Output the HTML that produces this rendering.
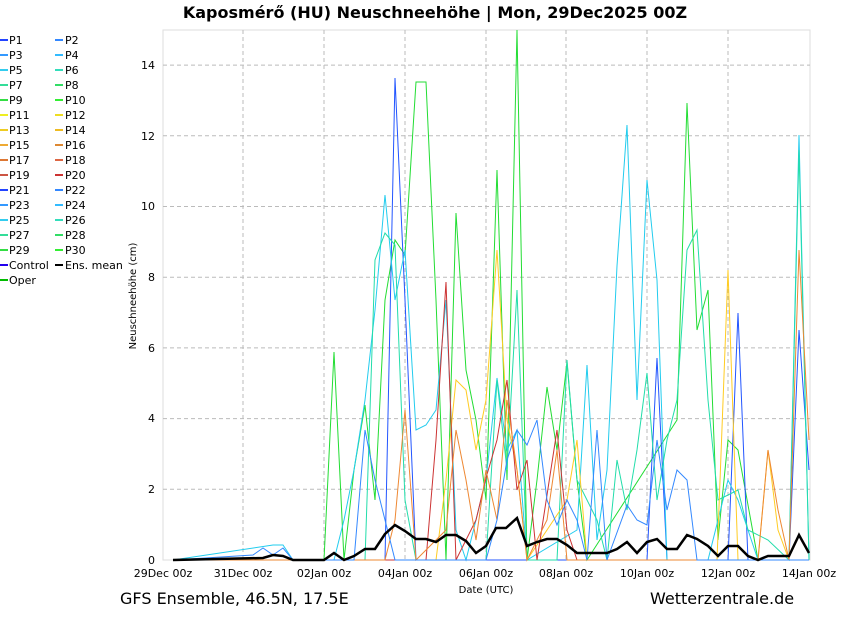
<!DOCTYPE html><html><head><style>body{margin:0;background:#fff;width:850px;height:620px;overflow:hidden}svg{display:block;font-family:"DejaVu Sans","Liberation Sans",sans-serif}</style></head><body>
<svg width="850" height="620" xmlns="http://www.w3.org/2000/svg">
<text x="435" y="18" font-size="16" font-weight="bold" text-anchor="middle">Kaposmérő  (HU)  Neuschneehöhe | Mon, 29Dec2025 00Z</text>
<rect x="163" y="30" width="647" height="530" fill="#fff" stroke="#ddd"/>
<g stroke="#bbb" stroke-dasharray="4,3" stroke-width="1">
<line x1="163" x2="810" y1="489.3" y2="489.3"/><line x1="163" x2="810" y1="418.6" y2="418.6"/><line x1="163" x2="810" y1="347.9" y2="347.9"/><line x1="163" x2="810" y1="277.2" y2="277.2"/><line x1="163" x2="810" y1="206.5" y2="206.5"/><line x1="163" x2="810" y1="135.8" y2="135.8"/><line x1="163" x2="810" y1="65.1" y2="65.1"/>
<line x1="243" x2="243" y1="30" y2="560"/><line x1="324" x2="324" y1="30" y2="560"/><line x1="405" x2="405" y1="30" y2="560"/><line x1="486" x2="486" y1="30" y2="560"/><line x1="566" x2="566" y1="30" y2="560"/><line x1="647" x2="647" y1="30" y2="560"/><line x1="728" x2="728" y1="30" y2="560"/>
</g>
<g font-size="11" text-anchor="end"><text x="155" y="564">0</text><text x="155" y="493">2</text><text x="155" y="422">4</text><text x="155" y="352">6</text><text x="155" y="281">8</text><text x="155" y="210">10</text><text x="155" y="140">12</text><text x="155" y="69">14</text></g>
<g font-size="11" text-anchor="middle"><text x="163" y="577">29Dec 00z</text><text x="243" y="577">31Dec 00z</text><text x="324" y="577">02Jan 00z</text><text x="405" y="577">04Jan 00z</text><text x="486" y="577">06Jan 00z</text><text x="566" y="577">08Jan 00z</text><text x="647" y="577">10Jan 00z</text><text x="728" y="577">12Jan 00z</text><text x="809" y="577">14Jan 00z</text>
<text x="486" y="593" font-size="10">Date (UTC)</text></g>
<text transform="translate(136,296) rotate(-90)" font-size="10" text-anchor="middle">Neuschneehöhe (cm)</text>
<text x="120" y="604" font-size="16">GFS Ensemble, 46.5N, 17.5E</text>
<text x="650" y="604" font-size="16">Wetterzentrale.de</text>
<g fill="none" stroke-width="1">
<polyline stroke="#22dd33" points="173,560 324,560 334,352 344,560 354,470 365,405 375,500 385,300 395,240 405,255 416,82 426,82 436,300 446,560 456,213 466,370 476,420 486,500 497,170 507,480 517,30 527,560 537,480 547,387 557,450 567,362 577,480 587,560 677,420 687,103 697,330 708,290 718,540 728,440 738,450 758,560 809,560"/>
<polyline stroke="#2255ff" points="173,560 385,560 395,78 405,300 416,560 647,560 657,358 667,560 728,560 738,313 748,560 789,560 799,330 809,470"/>
<polyline stroke="#22ccee" points="173,560 273,545 283,545 293,560 334,560 344,520 354,470 365,400 375,310 385,195 395,300 405,250 416,430 426,425 436,410 446,300 456,530 466,560 486,480 497,378 507,450 517,430 527,560 577,530 587,365 597,540 607,470 617,266 627,125 637,400 647,180 657,280 667,560 708,560 728,480 738,500 758,560 789,560 799,135 809,560"/>
<polyline stroke="#22ddaa" points="173,560 365,560 375,260 385,233 395,245 405,500 416,560 486,560 497,380 507,470 517,290 527,560 557,560 567,360 577,480 597,520 607,560 617,460 627,510 637,450 647,373 657,500 667,440 677,400 687,250 697,230 708,400 718,500 738,490 748,530 768,540 789,560 799,150 809,560"/>
<polyline stroke="#ffcc22" points="173,560 436,560 446,480 456,380 466,390 476,450 486,400 497,250 507,420 517,470 527,560 567,500 577,440 587,560 717,560 728,270 738,560 758,560 768,450 778,530 789,560 809,560"/>
<polyline stroke="#cc3333" points="173,560 426,560 436,440 446,282 456,560 476,520 486,478 497,440 507,380 517,490 527,460 537,560 557,430 567,530 577,560 809,560"/>
<polyline stroke="#ee8833" points="173,560 385,560 395,520 405,410 416,560 446,530 456,430 466,480 476,540 486,470 497,520 507,400 517,470 527,560 547,520 557,450 567,560 758,560 768,450 778,510 789,560 799,250 809,440"/>
<polyline stroke="#3388ff" points="173,560 253,555 263,548 273,555 283,548 293,560 354,560 365,430 375,480 385,520 395,560 486,560 497,520 507,460 517,430 527,445 537,420 547,500 557,525 567,500 577,520 587,560 597,430 607,560 627,505 637,520 647,525 657,440 667,510 677,470 687,480 697,560 809,560"/>
</g>
<polyline fill="none" stroke="#000" stroke-width="2.5" points="173,560 263,558 273,555 283,556 293,560 324,560 334,553 344,560 354,556 365,549 375,549 385,534 395,525 405,531 416,539 426,539 436,542 446,535 456,535 466,541 476,553 486,546 496,528 506,528 517,518 527,546 537,542 547,539 557,539 567,545 577,553 587,553 597,553 607,553 617,549 627,542 637,553 647,542 657,539 667,549 677,549 687,535 697,539 708,546 718,556 728,546 738,546 748,556 758,560 768,556 778,556 789,556 799,535 809,553"/>
<g font-size="11" stroke-width="2">
<g transform="translate(0,40)">
<line x1="0" x2="8" y1="0" y2="0" stroke="#2244ff"/><text x="9" y="4">P1</text><line x1="55" x2="63" y1="0" y2="0" stroke="#3388ff"/><text x="65" y="4">P2</text>
<line x1="0" x2="8" y1="15" y2="15" stroke="#3399ff"/><text x="9" y="19">P3</text><line x1="55" x2="63" y1="15" y2="15" stroke="#33bbff"/><text x="65" y="19">P4</text>
<line x1="0" x2="8" y1="30" y2="30" stroke="#33ccee"/><text x="9" y="34">P5</text><line x1="55" x2="63" y1="30" y2="30" stroke="#33ddbb"/><text x="65" y="34">P6</text>
<line x1="0" x2="8" y1="45" y2="45" stroke="#33dd99"/><text x="9" y="49">P7</text><line x1="55" x2="63" y1="45" y2="45" stroke="#33dd66"/><text x="65" y="49">P8</text>
<line x1="0" x2="8" y1="60" y2="60" stroke="#33dd44"/><text x="9" y="64">P9</text><line x1="55" x2="63" y1="60" y2="60" stroke="#33ee33"/><text x="65" y="64">P10</text>
<line x1="0" x2="8" y1="75" y2="75" stroke="#eeee22"/><text x="9" y="79">P11</text><line x1="55" x2="63" y1="75" y2="75" stroke="#eedd22"/><text x="65" y="79">P12</text>
<line x1="0" x2="8" y1="90" y2="90" stroke="#eecc22"/><text x="9" y="94">P13</text><line x1="55" x2="63" y1="90" y2="90" stroke="#eebb22"/><text x="65" y="94">P14</text>
<line x1="0" x2="8" y1="105" y2="105" stroke="#eeaa33"/><text x="9" y="109">P15</text><line x1="55" x2="63" y1="105" y2="105" stroke="#dd8833"/><text x="65" y="109">P16</text>
<line x1="0" x2="8" y1="120" y2="120" stroke="#dd7733"/><text x="9" y="124">P17</text><line x1="55" x2="63" y1="120" y2="120" stroke="#dd6644"/><text x="65" y="124">P18</text>
<line x1="0" x2="8" y1="135" y2="135" stroke="#cc5544"/><text x="9" y="139">P19</text><line x1="55" x2="63" y1="135" y2="135" stroke="#cc3333"/><text x="65" y="139">P20</text>
<line x1="0" x2="8" y1="150" y2="150" stroke="#2244ff"/><text x="9" y="154">P21</text><line x1="55" x2="63" y1="150" y2="150" stroke="#3388ff"/><text x="65" y="154">P22</text>
<line x1="0" x2="8" y1="165" y2="165" stroke="#3399ff"/><text x="9" y="169">P23</text><line x1="55" x2="63" y1="165" y2="165" stroke="#33bbff"/><text x="65" y="169">P24</text>
<line x1="0" x2="8" y1="180" y2="180" stroke="#33ccee"/><text x="9" y="184">P25</text><line x1="55" x2="63" y1="180" y2="180" stroke="#33ddbb"/><text x="65" y="184">P26</text>
<line x1="0" x2="8" y1="195" y2="195" stroke="#33dd99"/><text x="9" y="199">P27</text><line x1="55" x2="63" y1="195" y2="195" stroke="#33dd66"/><text x="65" y="199">P28</text>
<line x1="0" x2="8" y1="210" y2="210" stroke="#33dd44"/><text x="9" y="214">P29</text><line x1="55" x2="63" y1="210" y2="210" stroke="#33ee33"/><text x="65" y="214">P30</text>
<line x1="0" x2="8" y1="225" y2="225" stroke="#2200ee"/><text x="9" y="229">Control</text><line x1="55" x2="63" y1="225" y2="225" stroke="#000"/><text x="65" y="229">Ens. mean</text>
<line x1="0" x2="8" y1="240" y2="240" stroke="#00bb00"/><text x="9" y="244">Oper</text>
</g></g>
</svg></body></html>
